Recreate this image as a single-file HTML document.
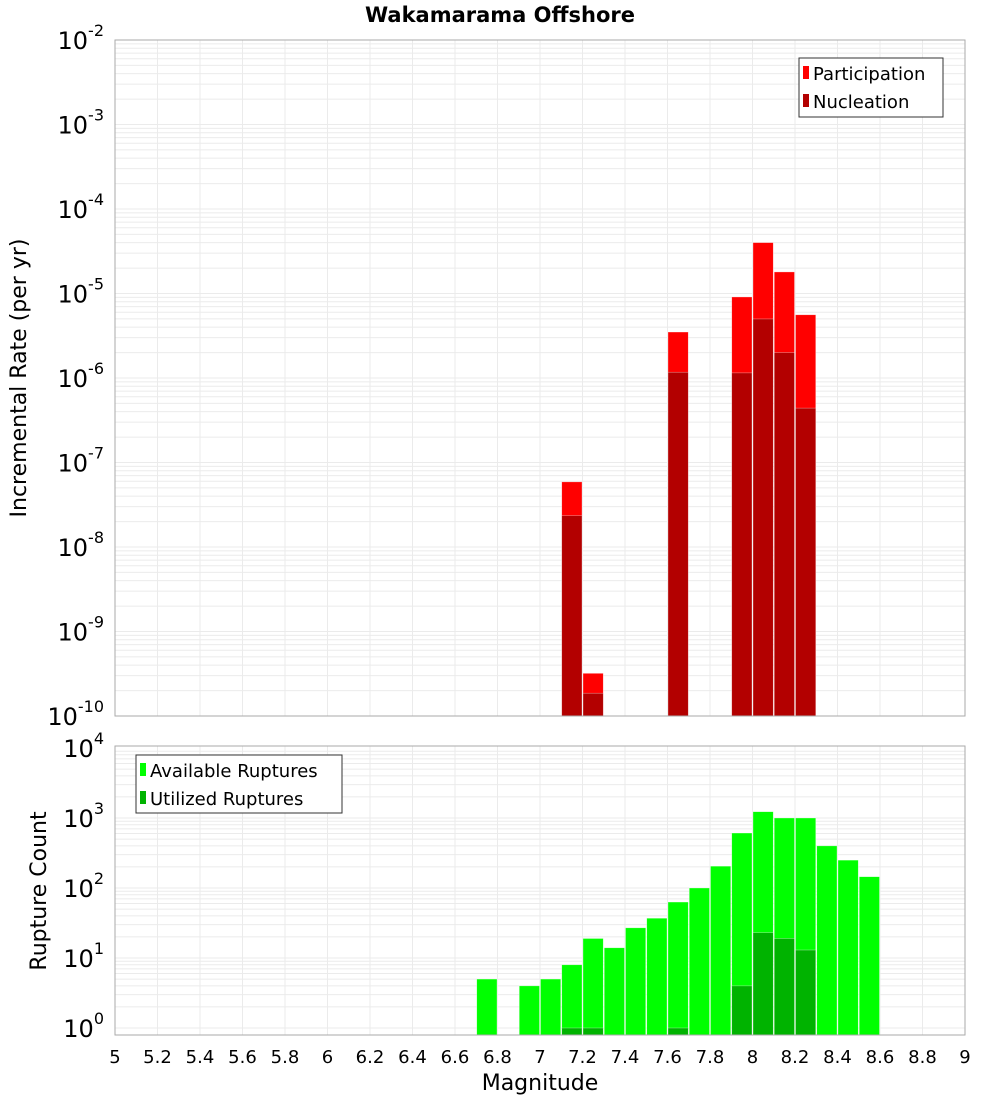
<!DOCTYPE html>
<html><head><meta charset="utf-8"><style>body{margin:0;background:#fff}svg text{font-family:"DejaVu Sans","Liberation Sans",sans-serif}</style></head>
<body>
<svg id="c" width="1000" height="1100" xmlns="http://www.w3.org/2000/svg"></svg>
<script>
const topBins=[7.15,7.25,7.65,7.95,8.05,8.15,8.25];
const participation=[5.9e-8,3.2e-10,3.5e-6,9.1e-6,4.0e-5,1.8e-5,5.6e-6];
const nucleation=[2.35e-8,1.86e-10,1.17e-6,1.15e-6,5.0e-6,2.0e-6,4.4e-7];
const botBins=[6.75,6.95,7.05,7.15,7.25,7.35,7.45,7.55,7.65,7.75,7.85,7.95,8.05,8.15,8.25,8.35,8.45,8.55];
const available=[5,4,5,8,19,14,27,37,63,100,205,610,1230,1000,1000,400,250,145];
const utilBins=[7.15,7.25,7.65,7.95,8.05,8.15,8.25];
const utilized=[1,1,1,4,23,19,13];
const xTicks=[5,5.2,5.4,5.6,5.8,6,6.2,6.4,6.6,6.8,7,7.2,7.4,7.6,7.8,8,8.2,8.4,8.6,8.8,9];
const topExps=[-2,-3,-4,-5,-6,-7,-8,-9,-10];
const botExps=[4,3,2,1,0];
const NS="http://www.w3.org/2000/svg",svg=document.getElementById('c');
function el(t,a,p){const e=document.createElementNS(NS,t);for(const k in a)e.setAttribute(k,a[k]);(p||svg).appendChild(e);return e;}
const X0=115,X1=965;
const x=v=>X0+(v-5)/4*(X1-X0);
const yT=v=>40+(-2-Math.log10(v))*84.5;
const yB=v=>748+(4-Math.log10(v))*70;
const bw=(X1-X0)/40;
function grid(y0,y1,exps,yf){
  for(let e=exps[exps.length-1];e<exps[0];e++)for(let m=1;m<10;m++){const yy=yf(m*Math.pow(10,e));if(yy>=y0&&yy<=y1){const l=el('line',{x1:X0,x2:X1,y1:yy,y2:yy,stroke:'#ebebeb','stroke-width':1});}}
  xTicks.forEach(t=>{const l=el('line',{x1:x(t),x2:x(t),y1:y0,y2:y1,stroke:'#ebebeb'});});
}
grid(40,716,topExps,yT);grid(746,1035,botExps,yB);
function bar(c,v,yf,base,fill){const r=el('rect',{x:x(c)-bw/2+0.5,width:bw-1,y:yf(v),height:base-yf(v),fill:fill,stroke:'#fff','stroke-opacity':0.5,'stroke-width':0.6});}
topBins.forEach((c,i)=>bar(c,participation[i],yT,716,'#ff0000'));
topBins.forEach((c,i)=>bar(c,nucleation[i],yT,716,'#b30000'));
botBins.forEach((c,i)=>bar(c,available[i],yB,1035,'#00ff00'));
utilBins.forEach((c,i)=>bar(c,utilized[i],yB,1035,'#00b300'));
el('rect',{x:X0,y:40,width:X1-X0,height:676,fill:'none',stroke:'#aaa'});
el('rect',{x:X0,y:746,width:X1-X0,height:289,fill:'none',stroke:'#aaa'});
function ylab(e,yy){const t=el('text',{x:104,y:yy+9,'font-size':24,'text-anchor':'end',fill:'#000'});
  const a=el('tspan',{},t);a.textContent='10';const b=el('tspan',{dy:-13,'font-size':16},t);b.textContent=String(e);}
topExps.forEach(e=>ylab(e,yT(Math.pow(10,e))));
botExps.forEach(e=>ylab(e,yB(Math.pow(10,e))));
xTicks.forEach(t=>{const s=el('text',{x:x(t),y:1063,'font-size':18,'text-anchor':'middle'});s.textContent=String(t);});
</script>
<svg style="position:absolute;left:0;top:0" width="1000" height="1100">
<text x="500" y="22" font-size="21" font-weight="bold" text-anchor="middle" font-family="DejaVu Sans, sans-serif">Wakamarama Offshore</text>
<text transform="translate(26,378) rotate(-90)" font-size="22" text-anchor="middle" font-family="DejaVu Sans, sans-serif">Incremental Rate (per yr)</text>
<text transform="translate(46,891) rotate(-90)" font-size="22" text-anchor="middle" font-family="DejaVu Sans, sans-serif">Rupture Count</text>
<text x="540" y="1090" font-size="22" text-anchor="middle" font-family="DejaVu Sans, sans-serif">Magnitude</text>
<g font-family="DejaVu Sans, sans-serif" font-size="18">
<rect x="799" y="58" width="144" height="59" fill="#fff" stroke="#333"/>
<rect x="803" y="66" width="6" height="13" fill="#ff0000"/><text x="813" y="80">Participation</text>
<rect x="803" y="94" width="6" height="13" fill="#b30000"/><text x="813" y="108">Nucleation</text>
</g>
<g font-family="DejaVu Sans, sans-serif" font-size="18">
<rect x="136" y="755" width="206" height="58" fill="#fff" stroke="#333"/>
<rect x="140" y="763" width="6" height="13" fill="#00ff00"/><text x="150" y="777">Available Ruptures</text>
<rect x="140" y="791" width="6" height="13" fill="#00b300"/><text x="150" y="805">Utilized Ruptures</text>
</g>
</svg>
</body></html>
